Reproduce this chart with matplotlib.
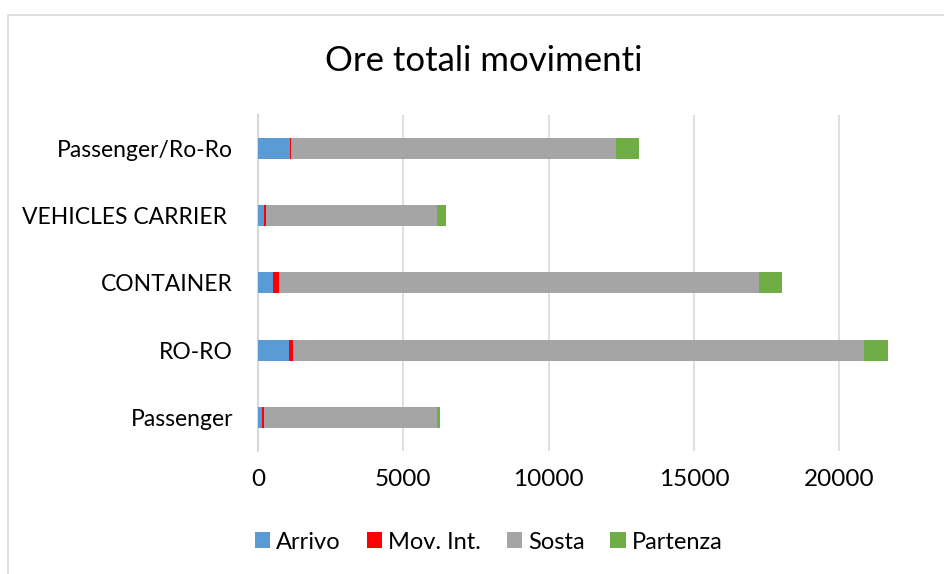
import matplotlib.pyplot as plt
from matplotlib.patches import Rectangle

# Dati (ore)
categorie = ['Passenger', 'RO-RO', 'CONTAINER', 'VEHICLES CARRIER ', 'Passenger/Ro-Ro']
arrivo = [140, 1060, 510, 200, 1100]
mov_int = [70, 140, 215, 60, 40]
sosta = [5950, 19640, 16510, 5900, 11180]
partenza = [90, 840, 790, 300, 790]

serie = ['Arrivo', 'Mov. Int.', 'Sosta', 'Partenza']
colori = ['#5B9BD5', '#FF0000', '#A5A5A5', '#70AD47']
tick_x = [0, 5000, 10000, 15000, 20000]

plt.rcParams['font.family'] = ['Lato', 'DejaVu Sans']

fig = plt.figure(figsize=(9.45, 5.74), dpi=100)
ax = fig.add_axes([0.273, 0.2143, 0.769, 0.586])

# Barre impilate
sinistra = [0] * len(categorie)
for nome, valori, col in zip(serie, [arrivo, mov_int, sosta, partenza], colori):
    ax.barh(categorie, valori, left=sinistra, color=col, height=0.31, label=nome, zorder=3)
    sinistra = [a + b for a, b in zip(sinistra, valori)]

ax.set_xlim(0, 25000)
ax.set_ylim(-0.5, len(categorie) - 0.5)
ax.set_xticks(tick_x)
ax.grid(axis='x', color='#D9D9D9', linewidth=1.2, zorder=0)
for s in ['top', 'right', 'bottom']:
    ax.spines[s].set_visible(False)
ax.spines['left'].set_color('#D9D9D9')
ax.spines['left'].set_linewidth(1.5)
ax.tick_params(axis='x', length=0, labelsize=17.5, colors='black', pad=13)
ax.tick_params(axis='y', length=0, labelsize=16.5, colors='black', pad=18)

fig.text(0.512, 0.893, 'Ore totali movimenti', ha='center', va='center', fontsize=25)

fig.legend(loc='center', bbox_to_anchor=(0.517, 0.0557), ncol=4, frameon=False,
           fontsize=17, handlelength=0.65, handleheight=0.65, handletextpad=0.25,
           columnspacing=1.1)

# Bordo del grafico
fig.patches.append(Rectangle((8 / 945, -0.1), 1.2, (574 - 15) / 574 + 0.1,
                             transform=fig.transFigure, fill=False,
                             edgecolor='#D9D9D9', linewidth=1.2))

plt.savefig('out.png', dpi=100)
